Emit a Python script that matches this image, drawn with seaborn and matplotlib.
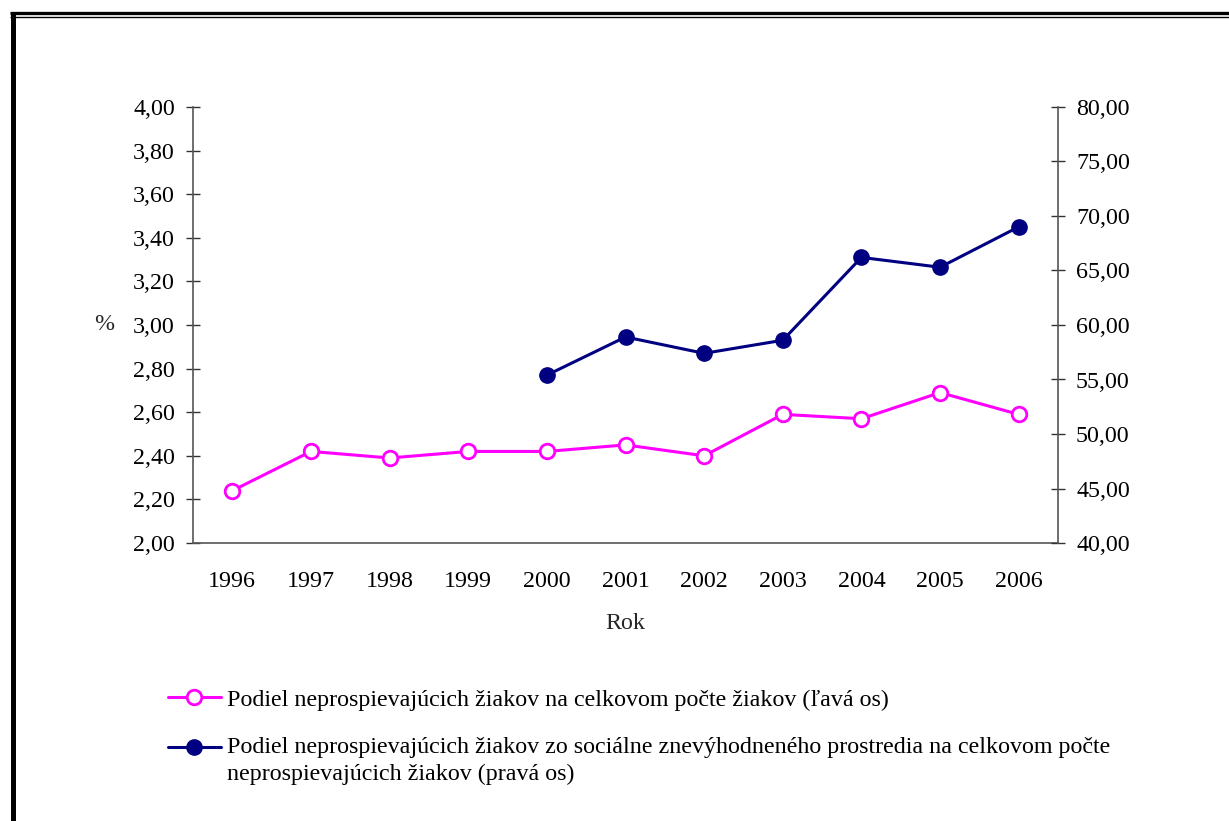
import numpy as np
import pandas as pd
import matplotlib
matplotlib.use('Agg')
import matplotlib.pyplot as plt
from matplotlib.lines import Line2D
from matplotlib.legend_handler import HandlerLine2D
import seaborn as sns

# data
years = [1996, 1997, 1998, 1999, 2000, 2001, 2002, 2003, 2004, 2005, 2006]
share_all = [2.24, 2.42, 2.39, 2.42, 2.42, 2.45, 2.40, 2.59, 2.57, 2.69, 2.59]
years_soc = [2000, 2001, 2002, 2003, 2004, 2005, 2006]
share_soc = [55.4, 58.9, 57.4, 58.6, 66.2, 65.3, 69.0]

left_ticks = [2.0, 2.2, 2.4, 2.6, 2.8, 3.0, 3.2, 3.4, 3.6, 3.8, 4.0]
right_ticks = [40, 45, 50, 55, 60, 65, 70, 75, 80]

label_all = "Podiel neprospievajúcich žiakov na celkovom počte žiakov (ľavá os)"
label_soc = ("Podiel neprospievajúcich žiakov zo sociálne znevýhodneného prostredia na celkovom počte\n"
             "neprospievajúcich žiakov (pravá os)")

PINK = '#FF00FF'
NAVY = '#000080'
FS = 17.3


class HandlerFirstLine(HandlerLine2D):
    """legend handle lifted to the first line of a two-line label"""

    def __init__(self, shift, **kw):
        super().__init__(**kw)
        self.shift = shift

    def create_artists(self, legend, orig_handle, xdescent, ydescent,
                       width, height, fontsize, trans):
        artists = super().create_artists(legend, orig_handle, xdescent, ydescent,
                                         width, height, fontsize, trans)
        for a in artists:
            a.set_ydata(np.asarray(a.get_ydata()) + self.shift)
        return artists


sns.set_theme(style='white')
plt.rcParams['font.family'] = ['Liberation Serif', 'DejaVu Serif']
plt.rcParams['font.size'] = FS
plt.rcParams['text.color'] = 'black'
plt.rcParams['xtick.color'] = 'black'
plt.rcParams['ytick.color'] = 'black'

df_all = pd.DataFrame({'rok': years, 'podiel': share_all})
df_soc = pd.DataFrame({'rok': years_soc, 'podiel': share_soc})

fig = plt.figure(figsize=(12.29, 8.21), dpi=100)
ax = fig.add_axes([193 / 1229, 1 - 543 / 821, (1058 - 193) / 1229, (543 - 107) / 821])
ax2 = ax.twinx()

sns.lineplot(data=df_all, x='rok', y='podiel', ax=ax, color=PINK, lw=2.2,
             marker='o', markersize=10.5, markerfacecolor='white',
             markeredgecolor=PINK, markeredgewidth=2.0, label=label_all, legend=False)
sns.lineplot(data=df_soc, x='rok', y='podiel', ax=ax2, color=NAVY, lw=2.2,
             marker='o', markersize=11, markerfacecolor=NAVY,
             markeredgecolor=NAVY, markeredgewidth=1.0, label=label_soc, legend=False)

ax.set_xlim(years[0] - 0.5, years[-1] + 0.5)
ax.set_ylim(2.0, 4.0)
ax2.set_ylim(40, 80)

ax.set_xticks(years)
ax.set_xticklabels([str(y) for y in years])
ax.set_xticks(np.array(years[1:]) - 0.5, minor=True)
ax.set_yticks(left_ticks)
ax.set_yticklabels([f"{v:.2f}".replace('.', ',') for v in left_ticks])
ax2.set_yticks(right_ticks)
ax2.set_yticklabels([f"{v:.2f}".replace('.', ',') for v in right_ticks])

ax.tick_params(axis='x', which='major', length=0, pad=20, labelsize=FS)
ax.tick_params(axis='x', which='minor', direction='inout', length=11, width=1, color='#333333')
ax.tick_params(axis='y', direction='inout', length=10, width=1, color='#333333', pad=8, labelsize=FS)
ax2.tick_params(axis='y', direction='inout', length=10, width=1, color='#333333', pad=8, labelsize=FS)

for a in (ax, ax2):
    a.grid(False)
    a.spines['top'].set_visible(False)
    for s in ('left', 'right', 'bottom'):
        a.spines[s].set_color('#555555')
        a.spines[s].set_linewidth(1.2)
ax.spines['right'].set_visible(False)
ax2.spines['left'].set_visible(False)
ax2.spines['bottom'].set_visible(False)

ax.set_xlabel('Rok', fontsize=FS, labelpad=15)
ax.set_ylabel('%', fontsize=FS, rotation=0, ha='center', va='center')
ax.yaxis.set_label_coords((104 - 193) / 865, (543 - 324) / 436)
ax2.set_ylabel('')

handles = ax.get_lines()[:1] + ax2.get_lines()[:1]
leg = fig.legend(handles, [label_all, label_soc], loc='upper left',
                 bbox_to_anchor=(168 / 1229, 1 - 689 / 821), frameon=False,
                 borderpad=0, borderaxespad=0, handlelength=2.2, handletextpad=0.25,
                 labelspacing=1.1, fontsize=FS,
                 handler_map={handles[1]: HandlerFirstLine(shift=9.8)})
for t in leg.get_texts():
    t.set_linespacing(1.35)

# outer frame of the document (top and left edge)
fig.add_artist(Line2D([10 / 1229, 1], [1 - 13.5 / 821] * 2, color='black', lw=2.4,
                      solid_capstyle='butt', transform=fig.transFigure))
fig.add_artist(Line2D([10 / 1229, 1], [1 - 16.8 / 821] * 2, color='black', lw=1.0,
                      solid_capstyle='butt', transform=fig.transFigure))
fig.add_artist(Line2D([12.5 / 1229] * 2, [0, 1 - 12 / 821], color='black', lw=3.6,
                      solid_capstyle='butt', transform=fig.transFigure))

fig.savefig('out.png', dpi=100)
plt.close(fig)
